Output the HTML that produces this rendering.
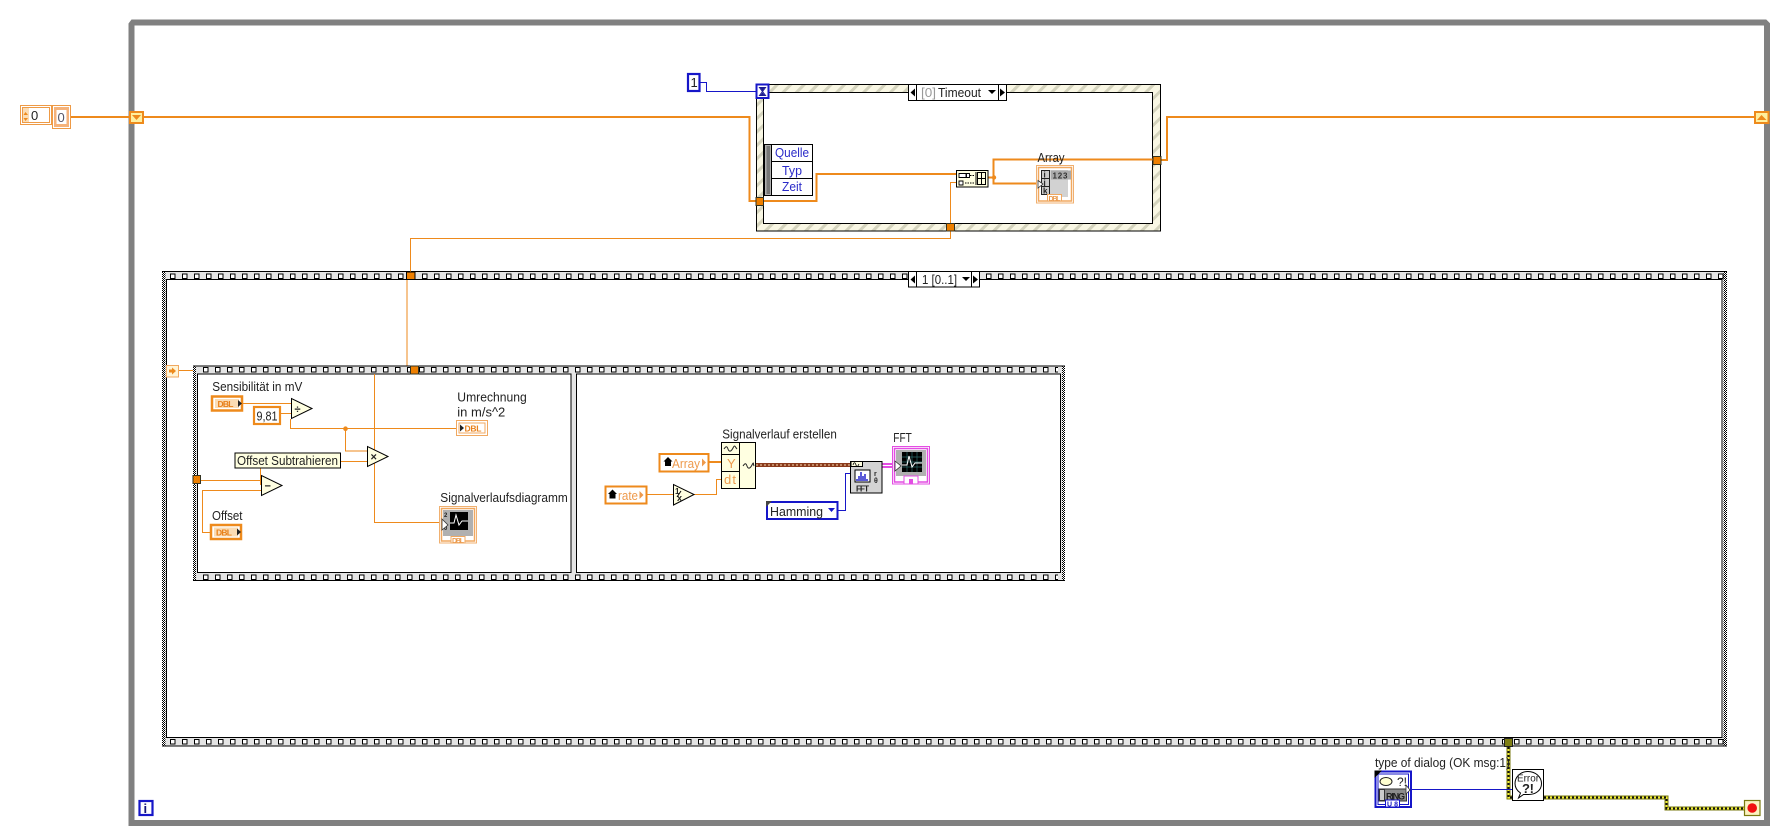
<!DOCTYPE html>
<html lang="de"><head><meta charset="utf-8"><title>Blockdiagramm</title>
<style>
html,body{margin:0;padding:0;background:#fff;width:1786px;height:837px;overflow:hidden}
svg{display:block}
text{font-family:"Liberation Sans",sans-serif;font-size:13px;fill:#222}
</style></head><body>
<svg xmlns="http://www.w3.org/2000/svg" width="1786" height="837" viewBox="0 0 1786 837">
<defs>
<pattern id="sq1" patternUnits="userSpaceOnUse" x="170" y="273.500" width="12" height="20"><rect x="0.5" y="0.5" width="4.5" height="4.5" fill="#fff" stroke="#000"/></pattern>
<pattern id="sq1b" patternUnits="userSpaceOnUse" x="170" y="739" width="12" height="20"><rect x="0.5" y="0.5" width="4.5" height="4.5" fill="#fff" stroke="#000"/></pattern>
<pattern id="sq2" patternUnits="userSpaceOnUse" x="203" y="367" width="12" height="20"><rect x="0.5" y="0.5" width="4.5" height="4.5" fill="#fff" stroke="#000"/></pattern>
<pattern id="sq2b" patternUnits="userSpaceOnUse" x="203" y="574.5" width="12" height="20"><rect x="0.5" y="0.5" width="4.5" height="4.5" fill="#fff" stroke="#000"/></pattern>
<pattern id="chk" patternUnits="userSpaceOnUse" width="2" height="2"><rect width="2" height="2" fill="#fff"/><rect width="1" height="1" fill="#000"/><rect x="1" y="1" width="1" height="1" fill="#000"/></pattern>
<pattern id="hatch" patternUnits="userSpaceOnUse" width="9.5" height="9.5" patternTransform="rotate(45)"><rect width="9.5" height="9.5" fill="#f9f7e4"/><rect width="3" height="9.5" fill="#d4d3bd"/></pattern>
</defs>

<!-- while loop frame -->
<path d="M131.5 823V24.5L133 22.5H1765L1767 24.5V823H131.5Z" fill="none" stroke="#808080" stroke-width="6"/>

<!-- big sequence -->
<rect x="162" y="271" width="1565" height="9.5" fill="#e4e4e4"/>
<rect x="162" y="737" width="1565" height="9.5" fill="#e4e4e4"/>
<rect x="162" y="271" width="3.5" height="475" fill="url(#chk)"/>
<rect x="1723.500" y="271" width="3.5" height="475" fill="url(#chk)"/>
<path d="M162 271.5H1727M162 746H1727" stroke="#000" fill="none"/>
<rect x="166.5" y="279.5" width="1555.5" height="458" fill="#fff" stroke="#000"/>
<rect x="170" y="273.5" width="1554" height="5.5" fill="url(#sq1)"/>
<rect x="170" y="739" width="1554" height="5.5" fill="url(#sq1b)"/>

<!-- event structure -->
<rect x="756.5" y="84.5" width="404" height="146.5" fill="url(#hatch)" stroke="#000"/>
<rect x="763.5" y="92.5" width="389" height="131" fill="#fff" stroke="#000"/>
<rect x="908.5" y="84.5" width="98" height="16" fill="#fff" stroke="#000"/>
<path d="M916.5 84.5V100.5M998.5 84.5V100.5" stroke="#000"/>
<path d="M915 88.5V96.5L910.5 92.5ZM1000 88.5V96.5L1005 92.5Z" fill="#000"/>
<text x="921" y="97" style="fill:#999" textLength="15" lengthAdjust="spacingAndGlyphs">[0]</text>
<text x="938" y="97" textLength="43" lengthAdjust="spacingAndGlyphs">Timeout</text>
<path d="M988 90H996L992 94Z" fill="#000"/>

<!-- timer -->
<rect x="756.5" y="84.5" width="12" height="13.5" fill="#fff" stroke="#1616c8" stroke-width="2"/>
<path d="M759.5 87.5H765.500L759.5 95.500H765.500Z" fill="#fff" stroke="#1a1a90"/>
<path d="M760.5 88H764.500L762.500 91ZM760.5 95H764.500L762.500 92.500Z" fill="#1a1a90"/>
<rect x="688" y="74" width="11.5" height="17" fill="#fff" stroke="#1616c8" stroke-width="2.2"/>
<text x="690.5" y="87">1</text>
<path d="M700 82.5H706.5V91.5H756" fill="none" stroke="#1616c8"/>

<!-- event data node -->
<rect x="764.5" y="144.5" width="48" height="51" fill="#fff" stroke="#000"/>
<rect x="765" y="145" width="6.5" height="50" fill="#b0b0b0"/>
<rect x="766.5" y="146" width="3.5" height="48" fill="#777"/>
<path d="M771.5 144.5V195.5M771.5 161.5H812.5M771.5 178.5H812.5" stroke="#000"/>
<text x="775" y="157" style="fill:#2a2ac8" textLength="34" lengthAdjust="spacingAndGlyphs">Quelle</text>
<text x="782" y="175" style="fill:#2a2ac8" textLength="20" lengthAdjust="spacingAndGlyphs">Typ</text>
<text x="782" y="191" style="fill:#2a2ac8" textLength="20" lengthAdjust="spacingAndGlyphs">Zeit</text>

<!-- thick wires top -->
<g fill="none" stroke="#ee8a1c" stroke-width="2">
<path d="M71 117H129M143 117H749.5V201H756"/>
<path d="M763 201H816.5V174H956"/>
<path d="M988 177.5H993.5V159.5H1153"/>
<path d="M993.5 177.5V183.5H1037"/>
<path d="M1161 160H1167V117H1755"/>
</g>
<circle cx="994" cy="177.5" r="2.2" fill="#ee8a1c"/>
<g fill="none" stroke="#ee8a1c">
<path d="M956 182.5H950.5V224"/>
<path d="M950.5 231V238.5H410.5V272"/>
<path d="M407 280V366"/>
</g>

<!-- left controls -->
<rect x="20.5" y="105.5" width="31" height="19" fill="#fff" stroke="#ee9a45"/>
<rect x="22.5" y="107.5" width="27" height="15" fill="#fff" stroke="#ee9a45"/>
<rect x="23" y="108" width="6" height="14" fill="#fbdcb4"/>
<path d="M25.5 112L23.5 115H28ZM25.5 121L23.5 118H28Z" fill="#ee8a1c"/>
<text x="31" y="120">0</text>
<rect x="52.5" y="105.5" width="18" height="23" fill="#fff" stroke="#ee9a45"/>
<rect x="54" y="107" width="15" height="20" fill="#f5b27a"/>
<rect x="56.5" y="110" width="10" height="14" fill="#fff"/>
<text x="57.5" y="122" style="fill:#556">0</text>

<!-- shift registers -->
<rect x="130" y="112" width="13" height="11" fill="#ffef9e" stroke="#ee8a1c" stroke-width="2"/>
<path d="M132 115H141L136.5 120Z" fill="#ee8a1c"/>
<rect x="1755" y="112" width="13.5" height="11" fill="#ffef9e" stroke="#ee8a1c" stroke-width="2"/>
<path d="M1757 120H1766.5L1761.5 115Z" fill="#ee8a1c"/>

<!-- tunnels -->
<rect x="756" y="197.5" width="7.5" height="8" fill="#ee7f00" stroke="#332"/>
<rect x="946.5" y="223.5" width="8" height="7.5" fill="#ee7f00" stroke="#332"/>
<rect x="1153" y="156.5" width="8" height="8" fill="#ee7f00" stroke="#332"/>
<rect x="406.5" y="272" width="8.5" height="7.5" fill="#ee7f00" stroke="#000"/>

<!-- index node -->
<rect x="956.5" y="170.5" width="31.5" height="16.5" fill="#ffffe1" stroke="#000"/>
<path d="M959 173.5h7v4h-7zM966.5 173.5h3v4h-3zM959 181h4v4h-4z" fill="#fff" stroke="#000" stroke-width=".9"/>
<path d="M970 175.5h4M965 183h9" stroke="#000" stroke-dasharray="1.5 1"/>
<path d="M976 172v13M977.5 172.5h8v12h-8zM981.5 172.5v12M977.5 178.5h8" fill="none" stroke="#000"/>

<!-- Array indicator -->
<rect x="1036.5" y="165.5" width="37" height="37.5" fill="#fff" stroke="#f0b070"/>
<rect x="1038.5" y="167.5" width="33" height="33.5" fill="#fff" stroke="#f0a860" stroke-width="1.5"/>
<rect x="1047" y="170" width="21" height="27" fill="#d2d2d2"/>
<rect x="1051" y="170.5" width="20" height="9" fill="#aaa"/>
<text x="1052.5" y="178.5" style="font-size:8px;font-weight:bold;fill:#333" textLength="15">123</text>
<rect x="1041.5" y="170.5" width="8" height="8" fill="#ccc" stroke="#222"/>
<rect x="1041.5" y="178.5" width="8" height="8" fill="#ccc" stroke="#222"/>
<rect x="1041.5" y="186.5" width="8" height="8" fill="#ccc" stroke="#222"/>
<text x="1043.5" y="177.5" style="font-size:8px;font-weight:bold">i</text>
<text x="1043.5" y="185.5" style="font-size:8px;font-weight:bold">j</text>
<text x="1043" y="193.5" style="font-size:8px;font-weight:bold">k</text>
<path d="M1038 180.5L1043 184L1038 188Z" fill="#fff" stroke="#333" stroke-width=".8"/>
<rect x="1047.5" y="194.5" width="14" height="6.5" fill="#fff" stroke="#f0a860"/>
<text x="1048.5" y="200.8" style="font-size:7px;font-weight:bold;fill:#eb9a4c" textLength="12">DBL</text>
<text x="1037.5" y="162" textLength="27" lengthAdjust="spacingAndGlyphs">Array</text>

<!-- big selector -->
<rect x="908.5" y="271.5" width="71" height="15.5" fill="#fff" stroke="#000"/>
<path d="M916.5 271.5V287M971.5 271.5V287" stroke="#000"/>
<path d="M915 275.5V283.5L910.5 279.5ZM973 275.5V283.5L978 279.5Z" fill="#000"/>
<text x="922" y="284" textLength="35" lengthAdjust="spacingAndGlyphs">1 [0..1]</text>
<path d="M962 277H970L966 281Z" fill="#000"/>

<!-- inner sequence -->
<rect x="193" y="366" width="872" height="215" fill="#e4e4e4"/>
<rect x="193" y="366" width="3" height="215" fill="url(#chk)"/>
<rect x="1062" y="366" width="3" height="215" fill="url(#chk)"/>
<path d="M193 366H1065M193 580.5H1065" stroke="#000"/>
<rect x="197.5" y="374" width="373.5" height="198.5" fill="#fff" stroke="#000"/>
<rect x="576.5" y="374" width="484" height="198.5" fill="#fff" stroke="#000"/>
<rect x="203" y="367" width="855" height="5.5" fill="url(#sq2)"/>
<rect x="203" y="574.5" width="855" height="5.5" fill="url(#sq2b)"/>

<!-- small shift icon -->
<rect x="166.5" y="365.5" width="12" height="11.5" fill="#fff4d6" stroke="#f0a860"/>
<path d="M169 369.5H172V367.5L176 371L172 374.5V372.5H169Z" fill="#ee8a1c"/>
<path d="M179 370.5H193" stroke="#ee8a1c" fill="none"/>

<!-- frame 1 wires -->
<g fill="none" stroke="#ee8a1c">
<path d="M242.5 403.5H291M280.5 413.5H291"/>
<path d="M290.5 419V428.5H456"/>
<path d="M345.5 428.5V451H367"/>
<path d="M340 461.5H367"/>
<path d="M200.5 480.5H261"/>
<path d="M260.5 468V485"/>
<path d="M261 490.5H202.5V532.5H211"/>
<path d="M374.5 374V522.5H442"/>
</g>
<circle cx="345.5" cy="428.7" r="2.3" fill="#ee8a1c"/>
<rect x="410.5" y="366" width="8" height="8" fill="#ee7f00" stroke="#332"/>
<rect x="193" y="475.5" width="7.5" height="8" fill="#ee7f00" stroke="#332"/>

<text x="212.3" y="391" textLength="90" lengthAdjust="spacingAndGlyphs">Sensibilität in mV</text>
<rect x="212" y="396.5" width="30" height="14" fill="#fff" stroke="#ee8a1c" stroke-width="2.5"/>
<rect x="215" y="399" width="24" height="9" fill="#fbdcb4"/>
<text x="217.5" y="407" style="font-size:8.5px;font-weight:bold;fill:#e8801a" textLength="16">DBL</text>
<path d="M238 400V407L242 403.5Z" fill="#222"/>
<rect x="254" y="407" width="26" height="17" fill="#fff" stroke="#ee8a1c" stroke-width="2.2"/>
<text x="256.5" y="420.5" textLength="21" lengthAdjust="spacingAndGlyphs">9,81</text>
<path d="M291.5 398.5V418.5L312 408.5Z" fill="#ffffe1" stroke="#000"/>
<text x="294.5" y="413" style="font-weight:bold;font-size:11px">÷</text>

<text x="457.3" y="401.5" textLength="69.5" lengthAdjust="spacingAndGlyphs">Umrechnung</text>
<text x="457.3" y="416.5" textLength="48" lengthAdjust="spacingAndGlyphs">in m/s^2</text>
<rect x="456.5" y="420.5" width="31" height="15" fill="#fff" stroke="#f0a860"/>
<rect x="459" y="423" width="26" height="10" fill="#fff" stroke="#f0a860"/>
<path d="M460 424.5V431.5L464 428Z" fill="#222"/>
<text x="464.5" y="431.5" style="font-size:8.5px;font-weight:bold;fill:#e8801a" textLength="17">DBL</text>

<path d="M367.5 446.5V466.5L388 456.5Z" fill="#ffffe1" stroke="#000"/>
<text x="370.5" y="460.5" style="font-weight:bold;font-size:11px">×</text>
<path d="M261.5 475.5V495.5L282 485.5Z" fill="#ffffe1" stroke="#000"/>
<text x="264.5" y="489.5" style="font-weight:bold;font-size:11px">−</text>
<rect x="235" y="453" width="105.5" height="15" fill="#ffffe1" stroke="#000"/>
<text x="237" y="465" textLength="101" lengthAdjust="spacingAndGlyphs">Offset Subtrahieren</text>

<text x="212" y="520" textLength="30.5" lengthAdjust="spacingAndGlyphs">Offset</text>
<rect x="211" y="525" width="30" height="14" fill="#fff" stroke="#ee8a1c" stroke-width="2.5"/>
<rect x="214" y="527.5" width="24" height="9" fill="#fbdcb4"/>
<text x="216" y="535.5" style="font-size:8.5px;font-weight:bold;fill:#e8801a" textLength="16">DBL</text>
<path d="M237 528.5V535.5L241 532Z" fill="#222"/>

<text x="440.3" y="502" textLength="127.5" lengthAdjust="spacingAndGlyphs">Signalverlaufsdiagramm</text>
<rect x="439.5" y="506.5" width="37" height="36.5" fill="#fff" stroke="#f0b070"/>
<rect x="441.5" y="508.5" width="33" height="32.5" fill="#fff" stroke="#f0a860" stroke-width="1.5"/>
<rect x="443" y="510" width="30" height="26" fill="#b0b0b0"/>
<rect x="450" y="512" width="18" height="18" fill="#000"/>
<path d="M450 523h4l2-8 3 10 3-4h6" fill="none" stroke="#fff"/>
<text x="444" y="517" style="font-size:6px;font-weight:bold">2</text>
<text x="444" y="530" style="font-size:6px;font-weight:bold">0</text>
<path d="M442 519L448 525L442 530Z" fill="#fff" stroke="#333" stroke-width=".8"/>
<rect x="451" y="536.5" width="14" height="6.5" fill="#fff" stroke="#f0a860"/>
<text x="452" y="542.8" style="font-size:7px;font-weight:bold;fill:#eb9a4c" textLength="12">DBL</text>

<!-- frame 2 -->
<g fill="none">
<path d="M709.5 462H721" stroke="#ee8a1c" stroke-width="2"/>
<path d="M647.5 494.5H673.5M694 494.5H716.5V479.5H721.5" stroke="#ee8a1c"/>
<path d="M838 510.5H845.5V473.5H850" stroke="#1616c8"/>
</g>
<rect x="755.7" y="463" width="94.3" height="4" fill="#8a3a1c"/>
<path d="M756 465H850" stroke="#f7d9b0" stroke-dasharray="2 2" fill="none"/>
<rect x="882" y="463" width="13" height="5" fill="#e34de3"/>
<path d="M882 465.5H895" stroke="#fff" fill="none"/>

<text x="722.3" y="438.5" textLength="114.5" lengthAdjust="spacingAndGlyphs">Signalverlauf erstellen</text>
<rect x="721.5" y="442.5" width="34" height="46" fill="#ffffe1" stroke="#000"/>
<path d="M739.5 442.5V488.5M721.5 454.5H739.5M721.5 471.5H739.5" stroke="#000"/>
<path d="M724 449c2-3 3-3 4 0s3 3 5-1 2-1 4 1M743 466c2-3 3-3 4 0s3 3 5-1 1-1 2 1" fill="none" stroke="#222"/>
<text x="727" y="468" style="fill:#ee9a4c">Y</text>
<text x="724" y="484" style="fill:#ee9a4c" textLength="12">dt</text>

<rect x="659.5" y="454" width="49" height="17.5" fill="#fff" stroke="#ee8a1c" stroke-width="2"/>
<path d="M668 457l4.5 4.5h-1.5v4.5h-6v-4.5H663.5Z" fill="#000"/>
<text x="672" y="468" style="fill:#ee9a4c" textLength="28" lengthAdjust="spacingAndGlyphs">Array</text>
<path d="M702 458.5V466.5L706 462.5Z" fill="#ee9a4c"/>
<rect x="605.5" y="486.5" width="41" height="17" fill="#fff" stroke="#ee8a1c" stroke-width="2"/>
<path d="M612.5 489.5l4.5 4.5h-1.5v4.5h-6v-4.5H608Z" fill="#000"/>
<text x="618" y="500" style="fill:#ee9a4c" textLength="20" lengthAdjust="spacingAndGlyphs">rate</text>
<path d="M639.5 491V499L643.5 495Z" fill="#ee9a4c"/>
<path d="M673.5 484.5V505L694 494.5Z" fill="#ffffe1" stroke="#000"/>
<text x="675" y="494" style="font-weight:bold;font-size:8px">1</text>
<text x="677" y="501" style="font-weight:bold;font-size:9px">x</text>
<path d="M677 497l4-6" stroke="#000"/>

<rect x="850.5" y="461.5" width="31.5" height="31.5" fill="#d4d4d4" stroke="#000"/>
<rect x="851" y="461.5" width="11.5" height="5" fill="#ffffe1" stroke="#000"/>
<path d="M853 465c1-3 2-3 3 0s2 1 3-1" fill="none" stroke="#000" stroke-width=".8"/>
<rect x="855" y="470" width="15" height="12" fill="#fff" stroke="#000"/>
<path d="M857 481v-2M859 481v-5M861 481v-9M863 481v-5M865 481v-7M867 481v-2" stroke="#1616c8" stroke-width="1.4"/>
<text x="856" y="491.500" style="font-size:8px;font-weight:bold" textLength="13">FFT</text>
<text x="874" y="476" style="font-size:7px;font-weight:bold">r</text>
<text x="874" y="483" style="font-size:7px;font-weight:bold">θ</text>

<text x="893.3" y="442" textLength="18.5" lengthAdjust="spacingAndGlyphs">FFT</text>
<rect x="892.5" y="446.5" width="37" height="37.5" fill="#fff" stroke="#e34de3"/>
<rect x="894.5" y="448.5" width="33" height="33.5" fill="#fff" stroke="#e34de3" stroke-width="1.5"/>
<rect x="896" y="450" width="30" height="26" fill="#b0b0b0"/>
<rect x="902" y="452" width="20" height="20" fill="#000"/>
<path d="M902 457h20M902 462h20M902 467h20M907 452v20M912 452v20M917 452v20" stroke="#2c6a6a" stroke-width=".7"/>
<path d="M902 465h5l2-9 3 11 3-4h7" fill="none" stroke="#fff"/>
<path d="M895 461L901 466L895 471Z" fill="#fff" stroke="#333" stroke-width=".8"/>
<rect x="904" y="476" width="14" height="8" fill="#fff" stroke="#e34de3"/>
<rect x="909" y="479" width="4" height="5" fill="#e34de3"/>

<rect x="767" y="502" width="70.5" height="17" fill="#fff" stroke="#1616c8" stroke-width="2"/>
<path d="M766 501H772L766 507Z" fill="#444"/>
<text x="770" y="516" textLength="53" lengthAdjust="spacingAndGlyphs">Hamming</text>
<path d="M828 508H835L831.5 512Z" fill="#1616c8"/>

<!-- bottom right -->
<path d="M1508.5 747V797.5H1513" fill="none" stroke="#7a7a10" stroke-width="4"/>
<path d="M1508.5 747V797.5H1513" fill="none" stroke="#f2ee3a" stroke-width="2"/>
<path d="M1508.5 747V797.5H1513" fill="none" stroke="#111" stroke-width="2" stroke-dasharray="2 2"/>
<path d="M1544 797.5H1666.5V808.5H1745" fill="none" stroke="#7a7a10" stroke-width="4"/>
<path d="M1544 797.5H1666.5V808.5H1745" fill="none" stroke="#f2ee3a" stroke-width="2"/>
<path d="M1544 797.5H1666.5V808.5H1745" fill="none" stroke="#111" stroke-width="2" stroke-dasharray="2 2"/>
<rect x="1504.5" y="738.5" width="8" height="8" fill="#7f7f14" stroke="#222"/>
<path d="M1411 789.5H1513" fill="none" stroke="#1616c8"/>

<text x="1375" y="767" textLength="135" lengthAdjust="spacingAndGlyphs">type of dialog (OK msg:1)</text>
<rect x="1375.5" y="771.5" width="35.5" height="35.5" fill="#fff" stroke="#1616c8" stroke-width="2"/>
<rect x="1378" y="774" width="30.5" height="30.5" fill="#fff" stroke="#1616c8"/>
<path d="M1374.5 770.5H1382L1374.5 778Z" fill="#000"/>
<ellipse cx="1386" cy="781.5" rx="6" ry="4" fill="#ffffd0" stroke="#222"/>
<text x="1397" y="786" style="font-size:12px">?!</text>
<rect x="1379" y="789" width="27.5" height="12" fill="#8c8c8c" stroke="#333"/>
<text x="1386" y="799.5" style="font-size:9px;font-weight:bold" textLength="19">RING</text>
<rect x="1379.5" y="789.5" width="5" height="11" fill="#ccc" stroke="#333"/>
<path d="M1406 785L1410 790L1406 794Z" fill="#fff" stroke="#333" stroke-width=".8"/>
<rect x="1385.5" y="800" width="14" height="7" fill="#fff" stroke="#1616c8"/>
<text x="1387" y="806.5" style="font-size:7px;font-weight:bold;fill:#1616c8" textLength="11">U8</text>

<rect x="1512.5" y="769.5" width="31" height="31" fill="#fff" stroke="#000"/>
<path d="M1528 771.5c7 0 13.5 5 13.5 12 0 7-6 11-13 11-2 0-3 0-5 0l-5 3.5 2-5c-3-2-5.500-5-5.500-9.500 0-7 6-12 13-12z" fill="#fff" stroke="#000"/>
<text x="1517" y="781.500" style="font-size:10px" textLength="22" lengthAdjust="spacingAndGlyphs">Error</text>
<text x="1522" y="793" style="font-size:13px;font-weight:bold" textLength="12">?!</text>

<rect x="1744.500" y="800.500" width="15.500" height="15" fill="#fbf3c0" stroke="#7a7a10" stroke-width="1.200"/>
<circle cx="1752.200" cy="808" r="4.800" fill="#f01010"/>

<rect x="139.500" y="801" width="13" height="14" fill="#fff" stroke="#1616c8" stroke-width="2.200"/>
<text x="143.500" y="813" style="font-weight:bold;fill:#14147a">i</text>
</svg>
</body></html>
